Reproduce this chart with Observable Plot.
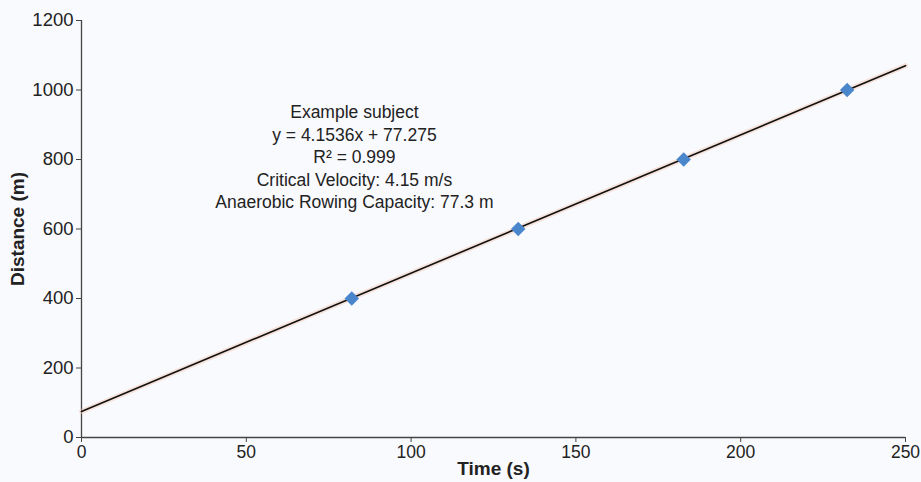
<!DOCTYPE html>
<html>
<head>
<meta charset="utf-8">
<script src="https://cdn.jsdelivr.net/npm/d3@7"></script>
<script src="https://cdn.jsdelivr.net/npm/@observablehq/plot@0.6"></script>
<style>
  html, body { margin: 0; padding: 0; background: #f9fafd; }
  #chart { width: 921px; height: 482px; }
</style>
</head>
<body>
<div id="chart"></div>
<script>
const timeS = [82, 132.5, 182.7, 232.3];
const distanceM = [400, 600, 800, 1000];
const trendTime = [0, 250];
const trendDistance = [75, 1070];
const xTicks = [0, 50, 100, 150, 200, 250];
const yTicks = [0, 200, 400, 600, 800, 1000, 1200];
const annotationLines = [
  "Example subject",
  "y = 4.1536x + 77.275",
  "R² = 0.999",
  "Critical Velocity: 4.15 m/s",
  "Anaerobic Rowing Capacity: 77.3 m"
];
const annotationPos = {x: 82.8, y: 965};

const points = timeS.map((t, i) => ({t, d: distanceM[i]}));
const trend = trendTime.map((t, i) => ({t, d: trendDistance[i]}));

const chart = Plot.plot({
  width: 921,
  height: 482,
  marginLeft: 81,
  marginRight: 16,
  marginTop: 20,
  marginBottom: 45,
  style: {fontFamily: "'Liberation Sans', Arial, sans-serif", background: "#f9fafd", color: "#222"},
  x: {domain: [0, 250], ticks: xTicks, label: null},
  y: {domain: [0, 1200], ticks: yTicks, label: null},
  marks: [
    Plot.axisX({ticks: xTicks, tickSize: 5, tickPadding: 3, fontSize: 17.5, stroke: "#444", label: null, tickFormat: d => String(d)}),
    Plot.axisY({ticks: yTicks, tickSize: 5, tickPadding: 3, fontSize: 18.5, stroke: "#444", label: null, tickFormat: d => String(d)}),
    Plot.ruleX([0], {y1: 0, y2: 1200, stroke: "#444", strokeWidth: 1.3}),
    Plot.ruleY([0], {x1: 0, x2: 250, stroke: "#444", strokeWidth: 1.3}),
    Plot.line(trend, {x: "t", y: "d", stroke: "#f3c9b8", strokeWidth: 5, strokeOpacity: 0.5}),
    Plot.line(trend, {x: "t", y: "d", stroke: "#111", strokeWidth: 1.6}),
    Plot.dot(points, {x: "t", y: "d", symbol: "diamond2", r: 6.5, fill: "#4a86cc", stroke: "none"}),
    Plot.text([annotationLines.join("\n")], {x: () => annotationPos.x, y: () => annotationPos.y, text: d => d, lineAnchor: "top", fontSize: 17.5, lineHeight: 1.285, fill: "#222"}),
    Plot.text(["Time (s)"], {frameAnchor: "bottom", dy: 31, fontSize: 19, fontWeight: "bold", lineAnchor: "middle", fill: "#222"}),
    Plot.text(["Distance (m)"], {frameAnchor: "left", textAnchor: "middle", dx: -64, rotate: -90, fontSize: 19, fontWeight: "bold", fill: "#222"})
  ]
});
document.getElementById("chart").appendChild(chart);
</script>
</body>
</html>
